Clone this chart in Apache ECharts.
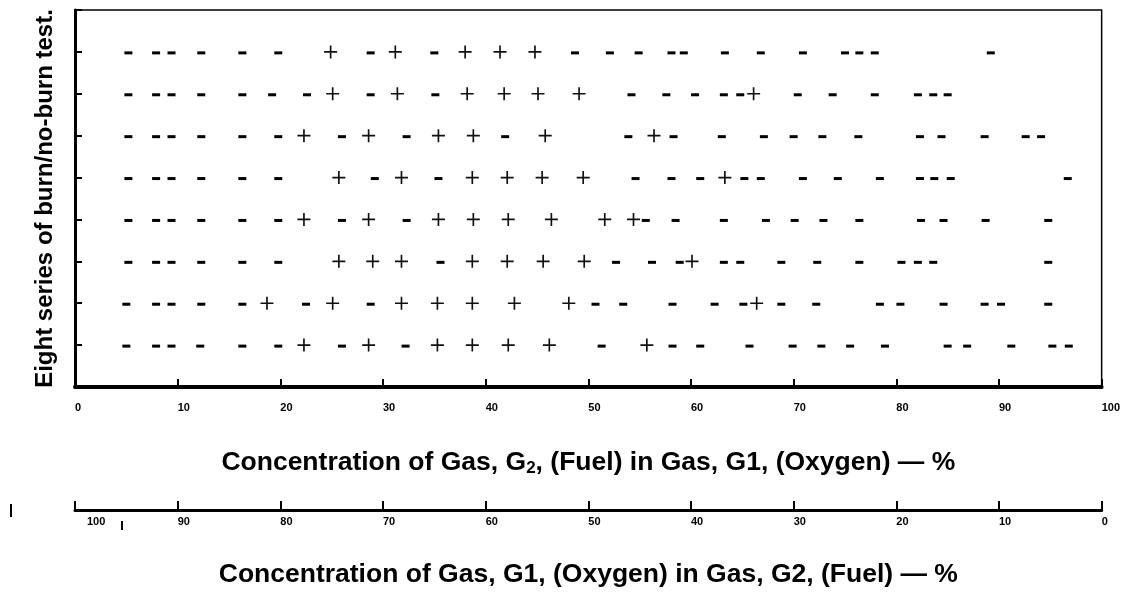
<!DOCTYPE html>
<html>
<head>
<meta charset="utf-8">
<script src="https://cdn.jsdelivr.net/npm/echarts@6/dist/echarts.min.js"></script>
<style>
html,body{margin:0;padding:0;background:#fff;}
#chart{width:1123px;height:593px;}
</style>
</head>
<body>
<div id="chart"></div>
<script>
// Burn (+) results, top row first
const plusRows = [
  [24.9, 31.2, 38.0, 41.4, 44.8],
  [25.1, 31.4, 38.2, 41.8, 45.1, 49.1, 66.1],
  [22.3, 28.6, 35.4, 38.8, 45.8, 56.4],
  [25.7, 31.8, 38.7, 42.1, 45.5, 49.5, 63.3],
  [22.3, 28.6, 35.4, 38.8, 42.2, 46.4, 51.6, 54.4],
  [25.7, 29.0, 31.8, 38.7, 42.1, 45.6, 49.6, 60.1],
  [18.7, 25.1, 31.8, 35.3, 38.7, 42.8, 48.1, 66.4],
  [22.3, 28.6, 35.3, 38.7, 42.2, 46.2, 55.7]
];
// No-burn (-) results, top row first
const minusRows = [
  [5.2, 7.9, 9.4, 12.3, 16.3, 19.8, 28.8, 35.0, 48.7, 52.1, 54.9, 58.1, 59.3, 63.3, 66.8, 70.9, 75.0, 76.4, 77.9, 89.2],
  [5.2, 7.9, 9.4, 12.3, 16.3, 19.2, 22.6, 28.8, 35.1, 54.2, 57.6, 60.4, 63.2, 64.8, 70.4, 73.8, 77.9, 82.1, 83.6, 85.0],
  [5.2, 7.9, 9.4, 12.3, 16.3, 19.8, 26.0, 32.3, 41.9, 53.9, 58.3, 63.0, 67.1, 70.0, 72.8, 76.3, 82.3, 84.4, 88.6, 92.6, 94.1],
  [5.2, 7.9, 9.4, 12.3, 16.3, 19.8, 29.2, 35.4, 54.6, 58.1, 60.9, 65.2, 66.8, 70.9, 74.3, 78.4, 82.3, 83.7, 85.3, 96.7],
  [5.2, 7.9, 9.4, 12.3, 16.3, 19.8, 26.0, 32.3, 55.6, 58.5, 63.2, 67.3, 70.1, 72.9, 76.4, 82.4, 84.6, 88.7, 94.8],
  [5.2, 7.9, 9.4, 12.3, 16.3, 19.8, 35.6, 52.7, 56.2, 58.9, 63.2, 64.8, 68.8, 72.3, 76.4, 80.5, 82.1, 83.6, 94.8],
  [5.0, 7.9, 9.4, 12.3, 16.3, 22.5, 28.8, 50.7, 53.4, 58.2, 62.3, 65.1, 68.8, 72.2, 78.4, 80.4, 84.6, 88.6, 90.2, 94.8],
  [5.0, 7.9, 9.4, 12.2, 16.3, 19.8, 26.0, 32.2, 51.3, 58.2, 60.9, 65.7, 69.9, 72.7, 75.5, 78.9, 85.0, 86.9, 91.2, 95.2, 96.8]
];
const xTitle1 = 'Concentration of Gas, G{sub|2}, (Fuel) in Gas, G1, (Oxygen) — %';
const xTitle2 = 'Concentration of Gas, G1, (Oxygen) in Gas, G2, (Fuel) — %';
const yTitle = 'Eight series of burn/no-burn test.';

const nRows = plusRows.length;
const plusData = [];
const minusData = [];
plusRows.forEach((r, i) => r.forEach(v => plusData.push([v, nRows - i])));
minusRows.forEach((r, i) => r.forEach(v => minusData.push([v, nRows - i])));

const FONT = '"Liberation Sans", Arial, sans-serif';
const chart = echarts.init(document.getElementById('chart'), null, {renderer: 'canvas'});
chart.setOption({
  animation: false,
  backgroundColor: '#fff',
  grid: {left: 75, right: 18, top: 10, bottom: 203, show: true, borderColor: '#000', borderWidth: 1.5},
  xAxis: [{
    type: 'value', min: 0, max: 100, interval: 10,
    axisLine: {show: true, lineStyle: {color: '#000', width: 4}},
    axisTick: {show: true, inside: true, length: 8, lineStyle: {color: '#000', width: 2}},
    splitLine: {show: false},
    axisLabel: {color: '#000', fontFamily: FONT, fontWeight: 'bold', fontSize: 11, align: 'left', margin: 15},
    name: xTitle1, nameLocation: 'middle', nameGap: 62,
    nameTextStyle: {color: '#000', fontFamily: FONT, fontWeight: 'bold', fontSize: 26.5,
      rich: {sub: {fontFamily: FONT, fontWeight: 'bold', fontSize: 17, color: '#000', padding: [11, 0, 0, 0]}}}
  }, {
    type: 'value', min: 0, max: 100, interval: 10, inverse: true, position: 'bottom', offset: 123,
    axisLine: {show: true, lineStyle: {color: '#000', width: 3}},
    axisTick: {show: true, inside: true, length: 9, lineStyle: {color: '#000', width: 2}},
    splitLine: {show: false},
    axisLabel: {color: '#000', fontFamily: FONT, fontWeight: 'bold', fontSize: 11, align: 'left', margin: 6,
      formatter: v => v === 100 ? '{p|100}' : String(v),
      rich: {p: {fontFamily: FONT, fontWeight: 'bold', fontSize: 11, color: '#000', padding: [0, 0, 0, 12]}}},
    name: xTitle2, nameLocation: 'middle', nameGap: 51,
    nameTextStyle: {color: '#000', fontFamily: FONT, fontWeight: 'bold', fontSize: 26.5}
  }],
  yAxis: {
    type: 'value', min: 0, max: 9, interval: 1,
    axisLine: {show: true, lineStyle: {color: '#000', width: 3}},
    axisTick: {show: true, inside: true, length: 7, lineStyle: {color: '#000', width: 2}},
    axisLabel: {show: false},
    splitLine: {show: false},
    name: yTitle, nameLocation: 'middle', nameGap: 18,
    nameTextStyle: {color: '#000', fontFamily: FONT, fontWeight: 'bold', fontSize: 24}
  },
  series: [{
    type: 'scatter', xAxisIndex: 0, data: plusData,
    symbol: 'path://M6.1,0 H7.9 V6.1 H14 V7.9 H7.9 V14 H6.1 V7.9 H0 V6.1 H6.1 Z',
    symbolSize: [13, 13],
    itemStyle: {color: '#111', opacity: 1}
  }, {
    type: 'scatter', xAxisIndex: 0, data: minusData,
    symbol: 'rect', symbolSize: [8, 3], symbolOffset: [0, 1],
    itemStyle: {color: '#000', opacity: 1}
  }],
  graphic: [
    {type: 'line', shape: {x1: 11, y1: 504, x2: 11, y2: 517}, style: {stroke: '#000', lineWidth: 2}},
    {type: 'line', shape: {x1: 122, y1: 521, x2: 122, y2: 530}, style: {stroke: '#000', lineWidth: 2}}
  ]
});
</script>
</body>
</html>
